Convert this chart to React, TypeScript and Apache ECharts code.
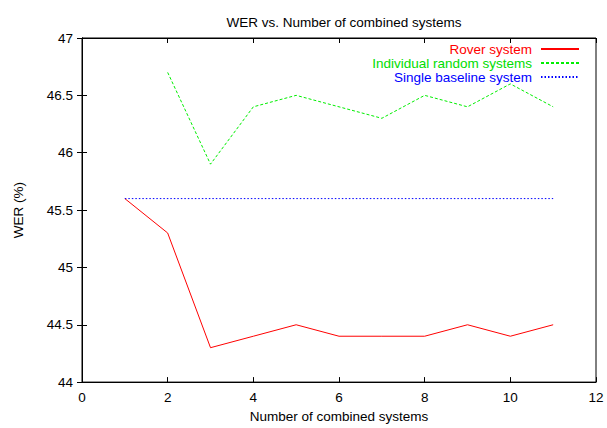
import React, { useEffect, useRef } from "react";
import * as echarts from "echarts";

const roverX = [1, 2, 3, 4, 5, 6, 7, 8, 9, 10, 11];
const roverY = [45.6, 45.3, 44.3, 44.4, 44.5, 44.4, 44.4, 44.4, 44.5, 44.4, 44.5];
const randomX = [2, 3, 4, 5, 6, 7, 8, 9, 10, 11];
const randomY = [46.7, 45.9, 46.4, 46.5, 46.4, 46.3, 46.5, 46.4, 46.6, 46.4];
const baselineX = [1, 11];
const baselineY = [45.6, 45.6];

const FONT = "Liberation Sans, Arial, Helvetica, sans-serif";
const FS = 13.5;

export default function App() {
  const ref = useRef<HTMLDivElement>(null);
  useEffect(() => {
    if (!ref.current) return;
    const chart = echarts.init(ref.current, undefined, { renderer: "svg" });
    const zip = (xs: number[], ys: number[]) => xs.map((x, i) => [x, ys[i]]);
    const tickStyle = { show: true, inside: true, length: 5, lineStyle: { color: "#000", width: 1 } };
    chart.setOption({
      animation: false,
      textStyle: { fontFamily: FONT },
      title: {
        text: "WER vs. Number of combined systems",
        left: 339,
        top: 10,
        textAlign: "center",
        textStyle: { fontSize: FS, fontWeight: "normal", color: "#000", fontFamily: FONT },
      },
      grid: { left: 82, right: 11, top: 38, bottom: 42, show: true, borderColor: "#000", borderWidth: 1 },
      legend: {
        orient: "vertical",
        right: 27,
        top: 42,
        padding: 0,
        align: "right",
        itemWidth: 38,
        itemHeight: 8,
        itemGap: 0,
        itemStyle: { opacity: 0 },
        textStyle: { fontSize: FS, lineHeight: 14, fontFamily: FONT, padding: [0, 4, 0, 0] },
        data: [
          { name: "Rover system", textStyle: { color: "#ff0000" } },
          { name: "Individual random systems", textStyle: { color: "#00dd00" } },
          { name: "Single baseline system", textStyle: { color: "#0000ff" } },
        ],
      },
      xAxis: [
        {
          type: "value",
          min: 0,
          max: 12,
          interval: 2,
          name: "Number of combined systems",
          nameLocation: "middle",
          nameGap: 26,
          nameTextStyle: { fontSize: FS, color: "#000", fontFamily: FONT },
          axisLine: { show: true, lineStyle: { color: "#000" } },
          axisTick: tickStyle,
          axisLabel: { color: "#000", fontSize: FS, margin: 8, fontFamily: FONT },
          splitLine: { show: false },
        },
        {
          type: "value",
          position: "top",
          min: 0,
          max: 12,
          interval: 2,
          axisLine: { show: true, lineStyle: { color: "#000" } },
          axisTick: tickStyle,
          axisLabel: { show: false },
          splitLine: { show: false },
        },
      ],
      yAxis: [
        {
          type: "value",
          min: 44,
          max: 47,
          interval: 0.5,
          name: "WER (%)",
          nameLocation: "middle",
          nameGap: 57,
          nameTextStyle: { fontSize: FS, color: "#000", fontFamily: FONT },
          axisLine: { show: true, lineStyle: { color: "#000" } },
          axisTick: tickStyle,
          axisLabel: { color: "#000", fontSize: FS, margin: 9, fontFamily: FONT },
          splitLine: { show: false },
        },
        {
          type: "value",
          position: "right",
          min: 44,
          max: 47,
          interval: 0.5,
          axisLine: { show: true, lineStyle: { color: "#000" } },
          axisTick: tickStyle,
          axisLabel: { show: false },
          splitLine: { show: false },
        },
      ],
      series: [
        {
          name: "Rover system",
          type: "line",
          data: zip(roverX, roverY),
          symbol: "none",
          showSymbol: false,
          color: "#ff0000",
          lineStyle: { color: "#ff0000", width: 1 },
        },
        {
          name: "Individual random systems",
          type: "line",
          data: zip(randomX, randomY),
          symbol: "none",
          showSymbol: false,
          color: "#00ee00",
          lineStyle: { color: "#00ee00", width: 1, type: [3, 2] },
        },
        {
          name: "Single baseline system",
          type: "line",
          data: zip(baselineX, baselineY),
          symbol: "none",
          showSymbol: false,
          color: "#0000ff",
          lineStyle: { color: "#0000ff", width: 1, type: [1.5, 2] },
        },
      ],
    });
    return () => chart.dispose();
  }, []);
  return (
    <div
      ref={ref}
      style={{ position: "fixed", left: 0, top: 0, width: 607, height: 428, background: "#fff" }}
    />
  );
}
